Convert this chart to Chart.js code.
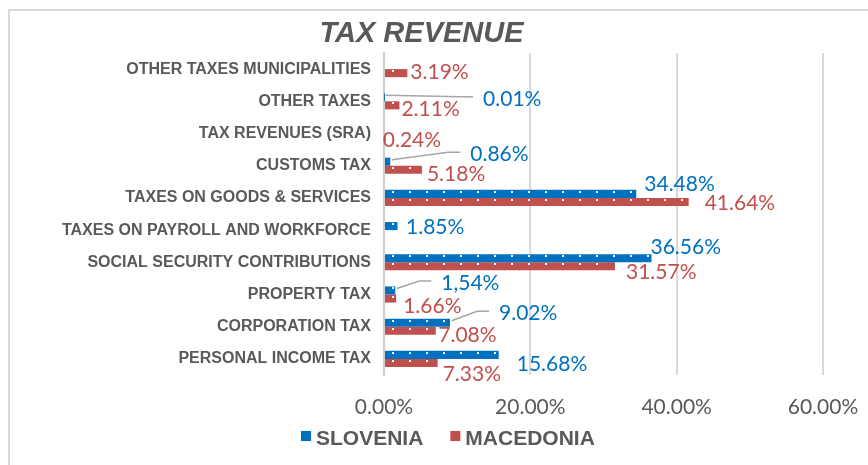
<!DOCTYPE html>
<html>
<head>
<meta charset="utf-8">
<script src="https://cdn.jsdelivr.net/npm/chart.js@4"></script>
<style>
  body { margin: 0; background: #fff; }
  canvas { display: block; }
</style>
</head>
<body>
<canvas id="chart" width="868" height="465"></canvas>
<script>
// categories, top to bottom as in the picture
var categories = [
    'OTHER TAXES MUNICIPALITIES',
    'OTHER TAXES',
    'TAX REVENUES (SRA)',
    'CUSTOMS TAX',
    'TAXES ON GOODS & SERVICES',
    'TAXES ON PAYROLL AND WORKFORCE',
    'SOCIAL SECURITY CONTRIBUTIONS',
    'PROPERTY TAX',
    'CORPORATION TAX',
    'PERSONAL INCOME TAX'
];
var slovenia  = [null, 0.01, null, 0.86, 34.48, 1.85, 36.56, 1.54, 9.02, 15.68];
var macedonia = [3.19, 2.11, 0.24, 5.18, 41.64, null, 31.57, 1.66, 7.08, 7.33];
var seriesNames = ['SLOVENIA', 'MACEDONIA'];
var xTicks = [0, 20, 40, 60];

var colors = ['#0070C0', '#C0504D'];
var grey = '#595959';

function fmt(v) { return v == null ? '' : v.toFixed(2) + '%'; }
var sloText = slovenia.map(fmt);
sloText[7] = '1,54%'; // the original label uses a comma here
var mkText = macedonia.map(fmt);

// label placement: [dx from bar end, dy from bar centre, leader line]
var sloPlace = [null, [99, 1, true], null, [80, -8, true], [8, -10.5], [8.5, 0], [-1, -12], [46, -8, true], [49, -10, true], [18, 8]];
var mkPlace  = [[3, -2], [2, 3], [-3, 1.5], [5, 4], [16, 0.5], null, [11, 5], [7, 6.5], [2.5, 4], [5, 10.5]];

var deco = {
    id: 'deco',
    beforeDraw: function(chart) {
        var ctx = chart.ctx;
        ctx.save();
        // outer frame (only top and left edges are inside the picture)
        ctx.strokeStyle = '#d9d9d9';
        ctx.lineWidth = 2;
        ctx.beginPath();
        ctx.moveTo(9, 470);
        ctx.lineTo(9, 10);
        ctx.lineTo(880, 10);
        ctx.stroke();

        // title
        ctx.fillStyle = grey;
        ctx.font = 'italic bold 29px "Liberation Sans", Arial, sans-serif';
        ctx.textAlign = 'center';
        ctx.textBaseline = 'alphabetic';
        ctx.fillText('TAX REVENUE', 421.5, 42);

        // legend
        ctx.font = 'bold 21px "Liberation Sans", Arial, sans-serif';
        ctx.textAlign = 'left';
        var x = 301;
        seriesNames.forEach(function(name, i) {
            ctx.fillStyle = colors[i];
            ctx.fillRect(x, 431, 10, 10);
            ctx.fillStyle = grey;
            ctx.fillText(name, x + 15, 445);
            x += 15 + ctx.measureText(name).width + 27;
        });
        ctx.restore();
    },
    afterDatasetsDraw: function(chart) {
        var ctx = chart.ctx;
        var texts = [sloText, mkText];
        var places = [sloPlace, mkPlace];
        ctx.save();
        chart.data.datasets.forEach(function(ds, d) {
            var meta = chart.getDatasetMeta(d);
            meta.data.forEach(function(bar, i) {
                if (ds.data[i] == null) return;
                var left = Math.min(bar.base, bar.x), right = Math.max(bar.base, bar.x);
                var top = bar.y - bar.height / 2;
                // little white dots of the pattern fill
                ctx.fillStyle = '#ffffff';
                for (var px = left + 7; px + 2 <= right - 1; px += 17) {
                    ctx.fillRect(Math.round(px), Math.round(top) + 1, 2, 2);
                }
                var p = places[d][i];
                if (!p) return;
                var lx = bar.x + p[0], ly = bar.y + p[1];
                if (p[2]) {
                    ctx.strokeStyle = '#a6a6a6';
                    ctx.lineWidth = 1.5;
                    ctx.beginPath();
                    ctx.moveTo(bar.x + 1.5, bar.y - 2);
                    ctx.lineTo(lx - 22, ly - 1.5);
                    ctx.lineTo(lx - 10, ly - 1.5);
                    ctx.stroke();
                }
                ctx.fillStyle = colors[d];
                ctx.font = '21px Lato, sans-serif';
                ctx.textAlign = 'left';
                ctx.textBaseline = 'middle';
                ctx.fillText(texts[d][i], lx, ly + 1);
            });
        });
        ctx.restore();
    }
};

var ctx1 = document.getElementById('chart').getContext('2d');
var taxChart = new Chart(ctx1, {
    type: 'bar',
    data: {
        labels: categories,
        datasets: [
            {
                label: seriesNames[0],
                data: slovenia,
                backgroundColor: colors[0],
                categoryPercentage: 0.5,
                barPercentage: 1.0
            },
            {
                label: seriesNames[1],
                data: macedonia,
                backgroundColor: colors[1],
                categoryPercentage: 0.5,
                barPercentage: 1.0
            }
        ]
    },
    options: {
        indexAxis: 'y',
        responsive: false,
        animation: false,
        layout: {
            padding: { top: 53, right: 45, bottom: 0, left: 0 }
        },
        plugins: {
            legend: { display: false },
            title: { display: false },
            tooltip: { enabled: false }
        },
        scales: {
            x: {
                min: xTicks[0],
                max: xTicks[xTicks.length - 1],
                afterBuildTicks: function(scale) {
                    scale.ticks = xTicks.map(function(v) { return { value: v }; });
                },
                afterFit: function(scale) { scale.height = 90; },
                grid: { color: '#d9d9d9', lineWidth: 2, drawTicks: true, tickLength: 20, tickColor: 'rgba(0,0,0,0)' },
                border: { display: false },
                ticks: {
                    padding: 0,
                    color: grey,
                    font: { family: 'Lato', size: 21 },
                    callback: function(v) { return Number(v).toFixed(2) + '%'; }
                }
            },
            y: {
                afterFit: function(scale) { scale.width = 384; },
                grid: { display: false, drawTicks: false },
                border: { display: true, color: '#cfcfcf', width: 2 },
                ticks: {
                    padding: 13,
                    color: grey,
                    autoSkip: false,
                    font: { family: 'Liberation Sans', size: 16, weight: 'bold' }
                }
            }
        }
    },
    plugins: [deco]
});
</script>
</body>
</html>
